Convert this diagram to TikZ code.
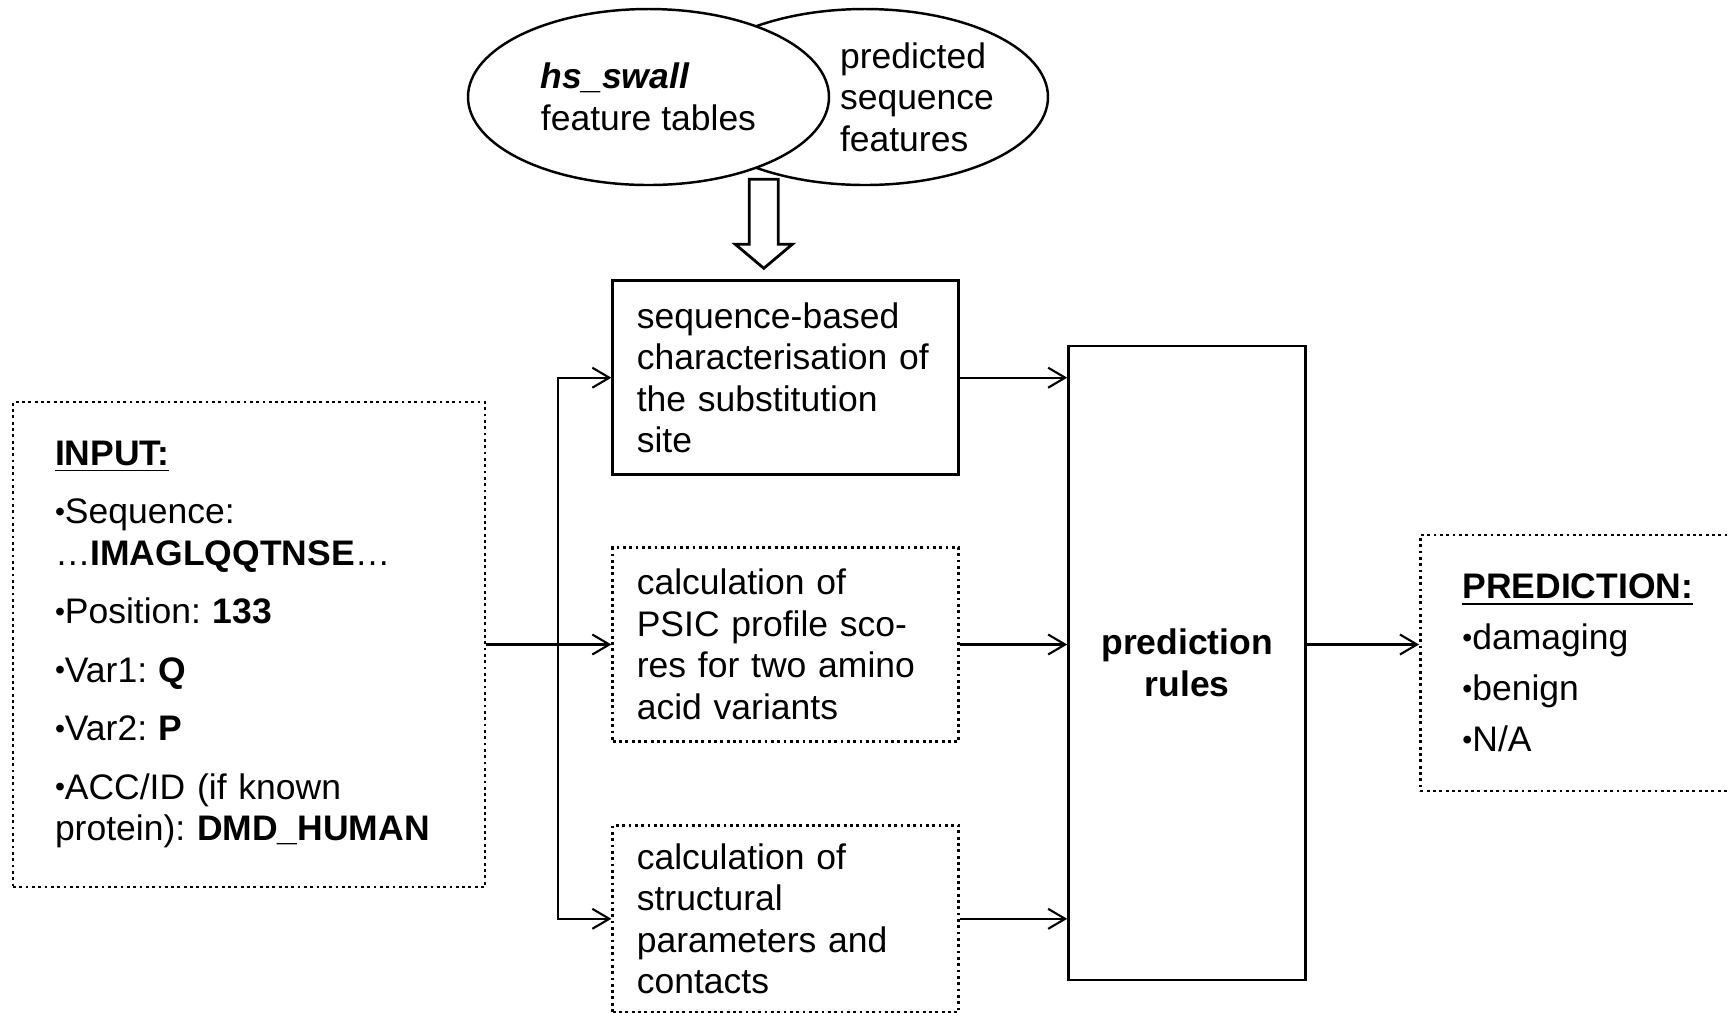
\documentclass[tikz,border=0pt]{standalone}
\usepackage{fontspec}
\usepackage{graphicx}
\setmainfont{Liberation Sans}
\usetikzlibrary{positioning, shapes.geometric, arrows.meta}
\newcommand{\itm}{\raisebox{0.07em}{\scalebox{0.8}{\textbullet}}}
\frenchspacing

\begin{document}
\begin{tikzpicture}[
    font=\fontsize{10.1}{11.8}\selectfont,
    box/.style={draw, line width=0.8pt, rectangle, inner ysep=0pt, align=left},
    dotbox/.style={box, densely dotted},
    oval/.style={draw, ellipse, line width=0.7pt, fill=white, minimum height=1.76cm, align=left},
    arrow/.style={-{Straight Barb[length=1.7mm, width=2mm]}, line width=0.6pt}
]
\useasboundingbox (0,0) rectangle (17.28,-10.12);

% Input
\node[dotbox, text width=3.88cm, inner xsep=0.42cm, minimum height=4.85cm] (input) at (2.49,-6.445) {\underline{\textbf{INPUT:}}\\[0.17cm]
    \itm Sequence:\\
    …\textbf{IMAGLQQTNSE}…\\[0.17cm]
    \itm Position: \textbf{133}\\[0.17cm]
    \itm Var1: \textbf{Q}\\[0.17cm]
    \itm Var2: \textbf{P}\\[0.17cm]
    \itm ACC/ID (if known\\
    protein): \textbf{DMD\_HUMAN}};

% Analysis steps
\node[dotbox, text width=2.98cm, inner xsep=0.24cm, minimum height=1.94cm, right=1.25cm of input] (psic) {calculation of\\PSIC profile sco-\\res for two amino\\acid variants};
\node[box, text width=2.98cm, inner xsep=0.24cm, minimum height=1.94cm, above=0.70cm of psic] (seqchar) {sequence-based\\characterisation of\\the substitution\\site};
\node[dotbox, text width=2.98cm, inner xsep=0.24cm, minimum height=1.87cm, below=0.81cm of psic] (struct) {calculation of\\structural\\parameters and\\contacts};

% Rules and output
\node[box, align=center, minimum width=2.37cm, minimum height=6.34cm, right=1.07cm of psic, yshift=-0.185cm] (rules) {\textbf{prediction}\\\textbf{rules}};
\node[dotbox, text width=2.61cm, inner xsep=0.42cm, minimum height=2.56cm, right=1.12cm of rules] (output) {\underline{\textbf{PREDICTION:}}\\[0.095cm]
    \itm damaging\\[0.095cm]
    \itm benign\\[0.095cm]
    \itm N/A};

% Feature sources
\node[oval, minimum width=3.66cm, label={[name=predtext, align=left, xshift=0.52cm]center:predicted\\sequence\\features}] (predfeat) at (8.65,-0.97) {};
\node[oval, minimum width=3.61cm] (swall) at (6.485,-0.97) {\textbf{\textit{hs\_swall}}\\feature tables};

% Hollow arrow
\coordinate (tip) at ([xshift=-0.22cm, yshift=0.11cm]seqchar.north);
\draw[line width=0.8pt, fill=white] (tip) -- ++(-0.285,0.24) -- ++(0.14,0) -- ++(0,0.65) -- ++(0.29,0) -- ++(0,-0.65) -- ++(0.14,0) -- cycle;

% Arrows
\coordinate[right=0.72cm of input.east] (split);
\draw[arrow] (input.east) -- (psic.west);
\draw[arrow] (split) |- (seqchar.west);
\draw[arrow] (split) |- (struct.west);
\draw[arrow] (seqchar.east) -- (seqchar.east -| rules.west);
\draw[arrow] (psic.east) -- (psic.east -| rules.west);
\draw[arrow] (struct.east) -- (struct.east -| rules.west);
\draw[arrow] (rules.east |- psic.east) -- (output.west |- psic.east);

\end{tikzpicture}
\end{document}
